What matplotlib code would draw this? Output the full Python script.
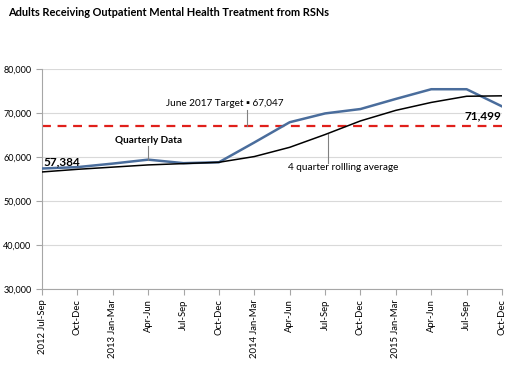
import matplotlib
matplotlib.use("Agg")
import matplotlib.pyplot as plt

quarters = ["2012 Jul-Sep", "Oct-Dec", "2013 Jan-Mar", "Apr-Jun", "Jul-Sep", "Oct-Dec",
            "2014 Jan-Mar", "Apr-Jun", "Jul-Sep", "Oct-Dec", "2015 Jan-Mar", "Apr-Jun",
            "Jul-Sep", "Oct-Dec"]
quarterly = [57384, 57700, 58500, 59400, 58600, 58800, 63300, 67900, 69900, 70900,
             73200, 75400, 75400, 71499]
rolling = [56600, 57200, 57700, 58200, 58500, 58800, 60100, 62200, 65100, 68200,
           70600, 72400, 73800, 73900]
target = 67047

plt.rcParams['font.family'] = ['Lato', 'DejaVu Sans']

fig = plt.figure(figsize=(5.16, 3.65), dpi=100)
ax = fig.add_axes([0.0814, 0.2082, 0.8915, 0.6028])

x = list(range(len(quarters)))
ax.plot(x, quarterly, color='#4a6d9c', lw=1.8, zorder=3)
ax.plot(x, rolling, color='black', lw=1.1, zorder=3)
ax.axhline(target, color='#e0201b', lw=1.6, ls=(0, (4, 3)), zorder=2)

ax.set_xlim(0, len(quarters) - 1)
ax.set_ylim(30000, 80000)
ax.set_yticks(range(30000, 80001, 10000))
ax.set_yticklabels([f"{v:,}" for v in range(30000, 80001, 10000)], fontsize=6.5)
ax.set_xticks(x)
ax.set_xticklabels(quarters, rotation=90, fontsize=6.8)
ax.grid(axis='y', color='#d9d9d9', lw=0.8)
ax.set_axisbelow(True)
for s in ['top', 'right']:
    ax.spines[s].set_visible(False)
for s in ['left', 'bottom']:
    ax.spines[s].set_color('#a6a6a6')
ax.tick_params(axis='both', colors='#a6a6a6', labelcolor='black', length=4, width=0.8)

fig.text(0.016, 0.967, "Adults Receiving Outpatient Mental Health Treatment from RSNs",
         fontsize=7.9, fontweight='bold', va='center')

# value labels
ax.text(0.05, quarterly[0] + 300, f"{quarterly[0]:,}", fontsize=8.5, fontweight='bold',
        va='bottom', ha='left')
ax.text(len(quarters) - 1.03, 69300, f"{quarterly[-1]:,}", fontsize=8.5,
        fontweight='bold', va='center', ha='right')

lead = dict(color='#808080', lw=0.8, zorder=4)
# target annotation
ax.text(5.17, 72050, "June 2017 Target \u25aa 67,047", fontsize=7.2, ha='center', va='center')
ax.plot([5.8, 5.8], [70700, target], **lead)
# quarterly data annotation
ax.text(3, 63700, "Quarterly Data", fontsize=7.2, fontweight='bold', ha='center', va='center')
ax.plot([3, 3], [62500, quarterly[3]], **lead)
# rolling average annotation
ax.text(8.5, 57700, "4 quarter rollling average", fontsize=7.2, ha='center', va='center')
ax.plot([8.08, 8.08], [58700, 65200], **lead)

fig.savefig("out.png", dpi=100)
